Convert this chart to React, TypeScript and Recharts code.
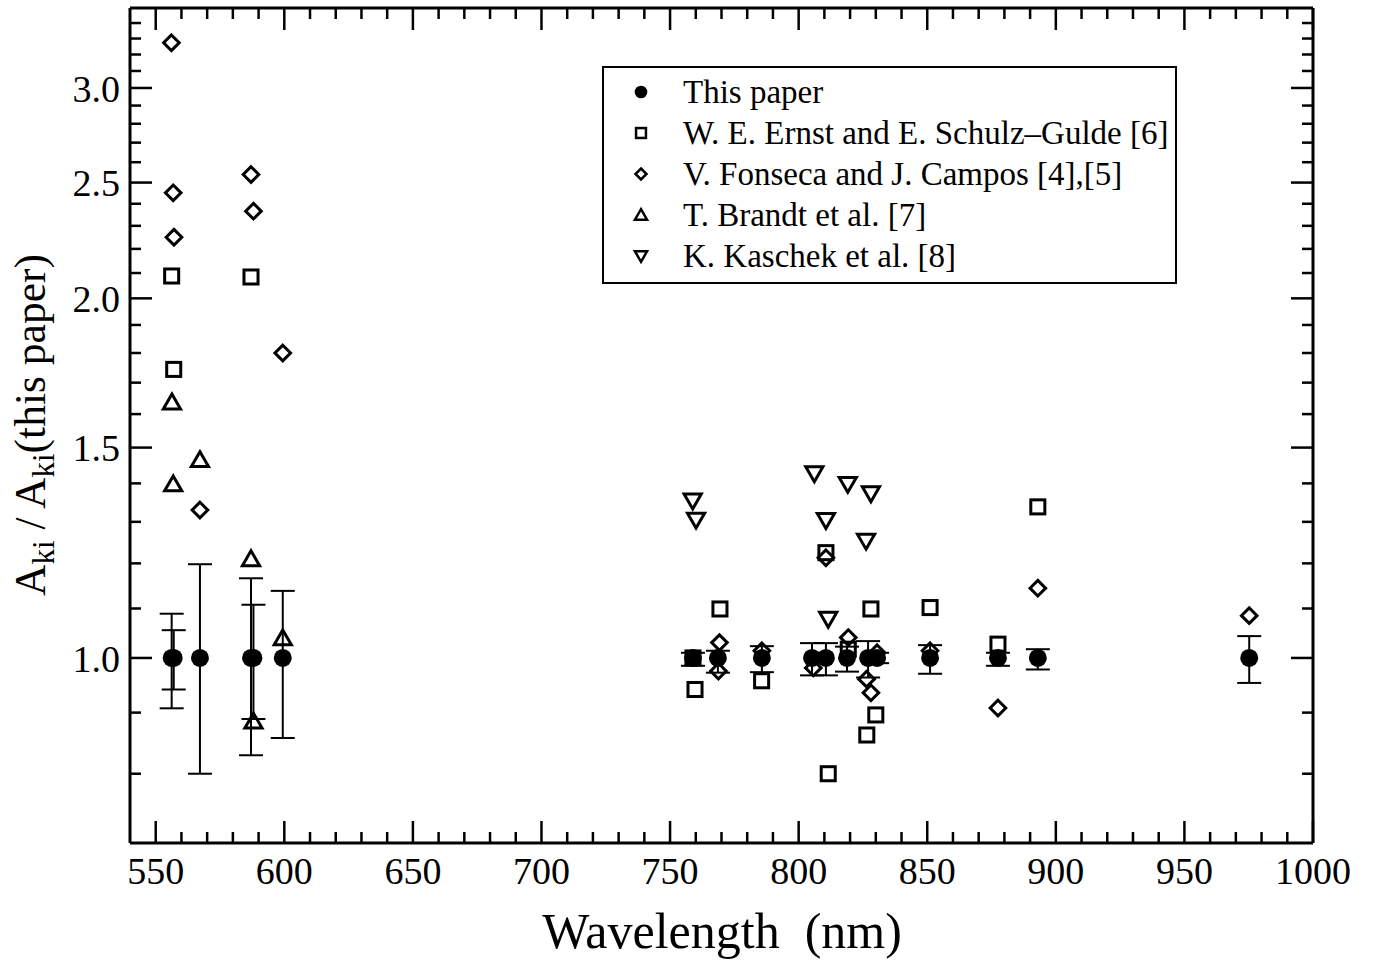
import { ErrorBar, Legend, Scatter, ScatterChart, XAxis, YAxis } from "recharts";

const FONT = '"Liberation Serif", "Times New Roman", serif';

const SERIES_NAMES = [
  "This paper",
  "W. E. Ernst and E. Schulz\u2013Gulde [6]",
  "V. Fonseca and J. Campos [4],[5]",
  "T. Brandt et al. [7]",
  "K. Kaschek et al. [8]",
];

// axis ticks
const X_MAJOR = [550, 600, 650, 700, 750, 800, 850, 900, 950, 1000];
const X_MINOR = [
  560, 570, 580, 590, 610, 620, 630, 640, 660, 670, 680, 690, 710, 720, 730, 740, 760, 770, 780, 790,
  810, 820, 830, 840, 860, 870, 880, 890, 910, 920, 930, 940, 960, 970, 980, 990,
];
const Y_MAJOR = [1.0, 1.5, 2.0, 2.5, 3.0];
const Y_MINOR = [0.8, 0.9, 1.1, 1.2, 1.3, 1.4, 1.6, 1.7, 1.8, 1.9, 2.1, 2.2, 2.3, 2.4, 2.6, 2.7, 2.8, 2.9, 3.1, 3.2, 3.3, 3.4];

// This paper (ratio 1 with error bars: lower / upper deltas)
const THIS_X = [556.2, 557.0, 567.2, 587.05, 588.0, 599.4, 758.9, 768.6, 785.7, 805.2, 810.6, 818.8, 827.0, 830.5, 851.1, 877.5, 893.0, 975.2];
const THIS_Y = [1.0, 1.0, 1.0, 1.0, 1.0, 1.0, 1.0, 1.0, 1.0, 1.0, 1.0, 1.0, 1.0, 1.0, 1.0, 1.0, 1.0, 1.0];
const THIS_LO = [0.0925, 0.059, 0.2, 0.171, 0.111, 0.143, 0.015, 0.028, 0.027, 0.033, 0.033, 0.026, 0.037, 0.01, 0.03, 0.015, 0.022, 0.047];
const THIS_HI = [0.089, 0.055, 0.198, 0.166, 0.108, 0.138, 0.01, 0.014, 0.023, 0.029, 0.029, 0.022, 0.033, 0.01, 0.025, 0.01, 0.017, 0.043];

// W. E. Ernst and E. Schulz-Gulde
const ERNST_X = [556.2, 557.0, 587.05, 758.9, 759.7, 769.4, 785.6, 810.6, 811.5, 819.3, 826.5, 828.1, 830.0, 851.1, 877.5, 893.0];
const ERNST_Y = [2.088, 1.744, 2.084, 1.0, 0.941, 1.099, 0.957, 1.225, 0.8, 1.017, 0.862, 1.099, 0.896, 1.102, 1.027, 1.338];

// V. Fonseca and J. Campos
const FONSECA_X = [556.1, 556.8, 557.1, 567.2, 587.05, 588.0, 599.4, 769.2, 768.8, 785.7, 805.7, 810.6, 819.3, 826.4, 828.1, 830.5, 851.1, 877.5, 893.0, 975.2];
const FONSECA_Y = [3.273, 2.451, 2.25, 1.33, 2.539, 2.366, 1.8, 1.03, 0.975, 1.014, 0.981, 1.213, 1.04, 0.96, 0.935, 1.01, 1.014, 0.908, 1.144, 1.085];

// T. Brandt et al.
const BRANDT_X = [556.3, 556.8, 567.2, 587.05, 588.0, 599.4];
const BRANDT_Y = [1.637, 1.398, 1.465, 1.21, 0.885, 1.039];

// K. Kaschek et al.
const KASCHEK_X = [758.8, 760.1, 806.1, 810.6, 811.5, 819.1, 826.2, 828.1];
const KASCHEK_Y = [1.354, 1.305, 1.427, 1.304, 1.078, 1.398, 1.253, 1.373];

const thisPaper = THIS_X.map((x, i) => ({ x, y: THIS_Y[i], err: [THIS_LO[i], THIS_HI[i]] }));
const ernst = ERNST_X.map((x, i) => ({ x, y: ERNST_Y[i] }));
const fonseca = FONSECA_X.map((x, i) => ({ x, y: FONSECA_Y[i] }));
const brandt = BRANDT_X.map((x, i) => ({ x, y: BRANDT_Y[i] }));
const kaschek = KASCHEK_X.map((x, i) => ({ x, y: KASCHEK_Y[i] }));

const MAJOR_LEN = 22;
const MINOR_LEN = 11;

// marker drawing
const mark = (kind: string, cx: number, cy: number, s: number, sw: number) => {
  const common = { fill: "none", stroke: "#000", strokeWidth: sw, strokeLinejoin: "miter" as const };
  if (kind === "circle") return <circle cx={cx} cy={cy} r={s * 1.15} fill="#000" />;
  if (kind === "square") return <rect x={cx - s * 0.9} y={cy - s * 0.9} width={s * 1.8} height={s * 1.8} {...common} />;
  if (kind === "diamond")
    return <path d={`M${cx} ${cy - s}L${cx + s} ${cy}L${cx} ${cy + s}L${cx - s} ${cy}Z`} {...common} />;
  if (kind === "up")
    return <path d={`M${cx} ${cy - s * 1.05}L${cx + s * 1.1} ${cy + s * 0.85}L${cx - s * 1.1} ${cy + s * 0.85}Z`} {...common} />;
  return <path d={`M${cx} ${cy + s * 1.05}L${cx + s * 1.1} ${cy - s * 0.85}L${cx - s * 1.1} ${cy - s * 0.85}Z`} {...common} />;
};

const shapeOf = (kind: string) => (p: any) => mark(kind, p.cx, p.cy, 7.8, 3);

const LeftTick = (p: any) => {
  const major = Y_MAJOR.includes(p.payload.value);
  return (
    <g>
      <line x1={p.x} y1={p.y} x2={p.x + (major ? MAJOR_LEN : MINOR_LEN)} y2={p.y} stroke="#000" strokeWidth={2.5} />
      {major && (
        <text x={p.x - 10} y={p.y} dy="0.36em" textAnchor="end" fontSize={38} fontFamily={FONT} fill="#000">
          {p.payload.value.toFixed(1)}
        </text>
      )}
    </g>
  );
};

const RightTick = (p: any) => {
  const major = Y_MAJOR.includes(p.payload.value);
  return <line x1={p.x} y1={p.y} x2={p.x - (major ? MAJOR_LEN : MINOR_LEN)} y2={p.y} stroke="#000" strokeWidth={2.5} />;
};

const BottomTick = (p: any) => {
  const major = X_MAJOR.includes(p.payload.value);
  return (
    <g>
      <line x1={p.x} y1={p.y} x2={p.x} y2={p.y - (major ? MAJOR_LEN : MINOR_LEN)} stroke="#000" strokeWidth={2.5} />
      {major && (
        <text x={p.x} y={p.y + 41} textAnchor="middle" fontSize={38} fontFamily={FONT} fill="#000">
          {p.payload.value}
        </text>
      )}
    </g>
  );
};

const TopTick = (p: any) => {
  const major = X_MAJOR.includes(p.payload.value);
  return <line x1={p.x} y1={p.y} x2={p.x} y2={p.y + (major ? MAJOR_LEN : MINOR_LEN)} stroke="#000" strokeWidth={2.5} />;
};

const xTitle = () => (
  <text x={722} y={948} textAnchor="middle" fontSize={50} fontFamily={FONT} fill="#000">
    {"Wavelength\u00a0\u00a0(nm)"}
  </text>
);

const yTitle = () => (
  <text transform="translate(45,425) rotate(-90)" textAnchor="middle" fontSize={43.5} fontFamily={FONT} fill="#000">
    A
    <tspan fontSize={31} dy={9}>ki</tspan>
    <tspan dy={-9}>{" / A"}</tspan>
    <tspan fontSize={31} dy={9}>ki</tspan>
    <tspan dy={-9}>(this paper)</tspan>
  </text>
);

const LEGEND_KINDS = ["circle", "square", "diamond", "up", "down"];

const renderLegend = () => (
  <svg width={576} height={219} style={{ display: "block" }}>
    <rect x={1} y={1} width={573} height={216} fill="#fff" stroke="#000" strokeWidth={2} />
    {SERIES_NAMES.map((name, i) => {
      const cy = 26 + 41 * i;
      return (
        <g key={name}>
          {mark(LEGEND_KINDS[i], 39, cy, 5.5, 2.5)}
          <text x={81} y={cy} dominantBaseline="central" fontSize={33} fontFamily={FONT} fill="#000">
            {name}
          </text>
        </g>
      );
    })}
  </svg>
);

export default function App() {
  return (
    <div style={{ position: "absolute", left: 0, top: 0, background: "#fff" }}>
      <ScatterChart width={1379} height={965} margin={{ top: 7, right: 65, bottom: 121, left: 129 }}>
        <XAxis
          xAxisId="bottom"
          dataKey="x"
          type="number"
          domain={[540, 1000]}
          allowDataOverflow
          ticks={[...X_MAJOR, ...X_MINOR]}
          interval={0}
          height={1}
          tickSize={0}
          tickMargin={0}
          tickLine={false}
          tick={BottomTick}
          axisLine={{ stroke: "#000", strokeWidth: 3 }}
          label={xTitle}
        />
        <XAxis
          xAxisId="top"
          orientation="top"
          dataKey="x"
          type="number"
          domain={[540, 1000]}
          allowDataOverflow
          ticks={[...X_MAJOR, ...X_MINOR]}
          interval={0}
          height={1}
          tickSize={0}
          tickMargin={0}
          tickLine={false}
          tick={TopTick}
          axisLine={{ stroke: "#000", strokeWidth: 3 }}
        />
        <YAxis
          yAxisId="left"
          dataKey="y"
          type="number"
          scale="log"
          domain={[0.7, 3.5]}
          allowDataOverflow
          ticks={[...Y_MAJOR, ...Y_MINOR]}
          interval={0}
          width={1}
          tickSize={0}
          tickMargin={0}
          tickLine={false}
          tick={LeftTick}
          axisLine={{ stroke: "#000", strokeWidth: 3 }}
          label={yTitle}
        />
        <YAxis
          yAxisId="right"
          orientation="right"
          dataKey="y"
          type="number"
          scale="log"
          domain={[0.7, 3.5]}
          allowDataOverflow
          ticks={[...Y_MAJOR, ...Y_MINOR]}
          interval={0}
          width={1}
          tickSize={0}
          tickMargin={0}
          tickLine={false}
          tick={RightTick}
          axisLine={{ stroke: "#000", strokeWidth: 3 }}
        />
        <Legend
          layout="vertical"
          align="center"
          verticalAlign="middle"
          content={renderLegend}
          wrapperStyle={{ left: 602, top: 66, width: 576, height: 219, margin: 0 }}
        />
        <Scatter name={SERIES_NAMES[0]} data={thisPaper} xAxisId="bottom" yAxisId="left" shape={shapeOf("circle")} isAnimationActive={false}>
          <ErrorBar dataKey="err" direction="y" width={12} stroke="#000" strokeWidth={2} />
        </Scatter>
        <Scatter name={SERIES_NAMES[1]} data={ernst} xAxisId="bottom" yAxisId="left" shape={shapeOf("square")} isAnimationActive={false} />
        <Scatter name={SERIES_NAMES[2]} data={fonseca} xAxisId="bottom" yAxisId="left" shape={shapeOf("diamond")} isAnimationActive={false} />
        <Scatter name={SERIES_NAMES[3]} data={brandt} xAxisId="bottom" yAxisId="left" shape={shapeOf("up")} isAnimationActive={false} />
        <Scatter name={SERIES_NAMES[4]} data={kaschek} xAxisId="bottom" yAxisId="left" shape={shapeOf("down")} isAnimationActive={false} />
      </ScatterChart>
    </div>
  );
}
